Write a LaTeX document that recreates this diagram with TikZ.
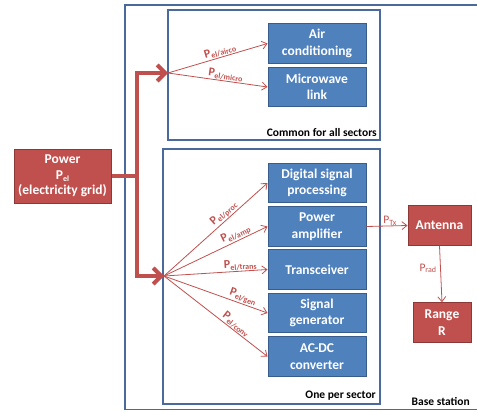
\documentclass[tikz,border=0pt]{standalone}
\usepackage{fontspec}
\setmainfont{Carlito}
\usetikzlibrary{arrows.meta}
\definecolor{rfill}{HTML}{C0504D}
\definecolor{rdraw}{HTML}{8C3836}
\definecolor{bfill}{HTML}{4F81BD}
\definecolor{bdraw}{HTML}{385D8A}
\definecolor{frame}{HTML}{4A6A9C}
\tikzset{
  bluebox/.style={draw=bdraw, line width=1pt, fill=bfill, text=white, font=\fontsize{13.5}{16.5}\selectfont\bfseries, align=center, minimum width=98pt, minimum height=39.5pt, inner sep=0pt},
  redbox/.style={draw=rdraw, line width=1pt, fill=rfill, text=white, font=\fontsize{13.5}{16.5}\selectfont\bfseries, align=center, inner sep=0pt},
  container/.style={draw=frame, line width=1.1pt},
  arr/.style={draw=rfill, line width=0.8pt, -{Straight Barb[length=5pt,width=8pt]}},
  bigarr/.style={draw=rfill, line width=4pt, -{Straight Barb[length=8pt,width=16pt]}},
  bigline/.style={draw=rfill, line width=4pt},
  lbl/.style={text=rfill, font=\fontsize{12}{13}\selectfont\bfseries, inner sep=0.5pt},
  caption/.style={text=black, font=\fontsize{11.5}{13}\selectfont\bfseries, inner sep=0pt},
}
\newcommand{\Psub}[1]{P\raisebox{-0.4ex}{\fontsize{8}{9}\selectfont #1}}
\begin{document}
\begin{tikzpicture}[x=1pt,y=-1pt]
\useasboundingbox (0,0) rectangle (477,412);
% containers
\draw[container] (125,5) rectangle (482,409.5);
\draw[container] (168,10) rectangle (380,140);
\draw[container] (163,149) rectangle (380,404);
% boxes
\node[redbox, minimum width=97pt, minimum height=54pt] (power) at (62.5,176) {Power\\[-1pt]\Psub{el}\\[-1pt](electricity grid)};
\node[bluebox] (ac) at (317,43.5) {Air\\conditioning};
\node[bluebox] (mw) at (317,87) {Microwave\\link};
\node[bluebox] (dsp) at (317,183) {Digital signal\\processing};
\node[bluebox] (pa) at (317,226.5) {Power\\amplifier};
\node[bluebox] (tr) at (317,269.5) {Transceiver};
\node[bluebox] (sg) at (317,313) {Signal\\generator};
\node[bluebox] (acdc) at (317,356.5) {AC-DC\\converter};
\node[redbox, minimum width=63pt, minimum height=39.5pt] (ant) at (439.5,225.5) {Antenna};
\node[redbox, minimum width=58pt, minimum height=39.5pt] (range) at (442,322.5) {Range\\R};
% captions
\node[caption, anchor=south east] (cap1) at (377,136.5) {Common for all sectors};
\node[caption, anchor=south east] (cap2) at (376,400.5) {One per sector};
\node[caption, anchor=south east] (cap3) at (470,406) {Base station};
% thick feeds
\coordinate (junc) at (137,176);
\coordinate (fantop) at (168,73);
\coordinate (fanbot) at (164,276);
\draw[bigline] (power.east) -- (junc);
\draw[bigarr] (junc) |- (fantop);
\draw[bigarr] (junc) |- (fanbot);
% fans
\draw[arr] (fantop) -- node[lbl, sloped, above, pos=0.54] {\Psub{el/airco}} (ac.west);
\draw[arr] (fantop) -- node[lbl, sloped, above, pos=0.57] {\Psub{el/micro}} (mw.west);
\draw[arr] (fanbot) -- node[lbl, sloped, above, pos=0.62] {\Psub{el/proc}} (dsp.west);
\draw[arr] (fanbot) -- node[lbl, sloped, above, pos=0.72] {\Psub{el/amp}} (pa.west);
\draw[arr] (fanbot) -- node[lbl, sloped, above, pos=0.74] {\Psub{el/trans}} (tr.west);
\draw[arr] (fanbot) -- node[lbl, sloped, above, pos=0.74] {\Psub{el/gen}} (sg.west);
\draw[arr] (fanbot) -- node[lbl, sloped, above, pos=0.66] {\Psub{el/conv}} (acdc.west);
% antenna chain
\draw[arr] (pa.east) -- node[lbl, above, pos=0.57, font=\fontsize{11.5}{12}\selectfont] {P\raisebox{-0.35ex}{\fontsize{8}{8}\selectfont Tx}} (ant.west);
\draw[arr] (ant.south) -- node[lbl, left, pos=0.4, font=\fontsize{11.5}{12}\selectfont, inner sep=4pt] {P\raisebox{-0.35ex}{\fontsize{8}{8}\selectfont rad}} (range.north);
\end{tikzpicture}
\end{document}
